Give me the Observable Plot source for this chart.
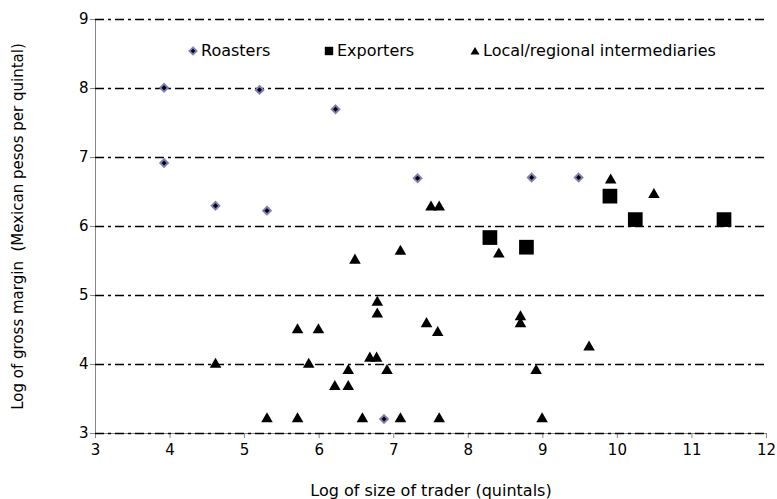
<!DOCTYPE html>
<html>
<head>
<meta charset="utf-8">
<script src="https://cdn.jsdelivr.net/npm/d3@7"></script>
<script src="https://cdn.jsdelivr.net/npm/@observablehq/plot@0.6"></script>
<style>
  html, body { margin: 0; padding: 0; background: #fff; }
  #wrap { position: relative; width: 777px; height: 499px; font-family: "DejaVu Sans", Verdana, sans-serif; }
  #wrap svg text { font-size: 15px; font-family: "DejaVu Sans", Verdana, sans-serif; fill: #000; }
  #wrap svg text.xlab { font-size: 16px; }
  #legend { position: absolute; top: 42px; left: 0; width: 777px; height: 18px; font-size: 16px; line-height: 18px; color: #000; }
  #legend .item { position: absolute; top: 0; display: flex; align-items: center; height: 18px; }
  #legend svg { margin-right: 2px; }
</style>
</head>
<body>
<div id="wrap"></div>
<script>
// ---- Data ----
const roastersX = [3.92, 5.20, 6.22, 3.92, 4.61, 5.30, 7.32, 8.85, 9.48, 6.87];
const roastersY = [8.01, 7.98, 7.70, 6.92, 6.30, 6.23, 6.70, 6.71, 6.71, 3.21];

const exportersX = [8.29, 8.78, 9.90, 10.24, 11.43];
const exportersY = [5.84, 5.70, 6.44, 6.10, 6.10];

const localX = [4.61, 5.30, 5.71, 5.71, 5.86, 5.99, 6.21, 6.39, 6.39, 6.48, 6.58, 6.68, 6.77, 6.78, 6.78, 6.91,
                7.09, 7.09, 7.44, 7.50, 7.59, 7.61, 7.61, 8.41, 8.70, 8.70, 8.91, 8.99, 9.62, 9.91, 10.49];
const localY = [4.00, 3.21, 3.21, 4.50, 4.00, 4.50, 3.68, 3.68, 3.91, 5.51, 3.21, 4.09, 4.09, 4.73, 4.90, 3.91,
                5.64, 3.21, 4.59, 6.28, 4.46, 6.28, 3.21, 5.60, 4.69, 4.59, 3.91, 3.21, 4.25, 6.67, 6.46];

const seriesNames = ["Roasters", "Exporters", "Local/regional intermediaries"];
const xTicks = [3, 4, 5, 6, 7, 8, 9, 10, 11, 12];
const yTicks = [3, 4, 5, 6, 7, 8, 9];
const xLabel = "Log of size of trader (quintals)";
const yLabel = "Log of gross margin  (Mexican pesos per quintal)";

const toRows = (xs, ys) => xs.map((x, i) => ({x, y: ys[i]}));
const roasters = toRows(roastersX, roastersY);
const exporters = toRows(exportersX, exportersY);
const locals = toRows(localX, localY);

const axisGrey = "#868686";

const chart = Plot.plot({
  width: 777,
  height: 499,
  marginLeft: 95,
  marginRight: 11,
  marginTop: 19,
  marginBottom: 66,
  style: { fontFamily: "'DejaVu Sans', Verdana, sans-serif", fontSize: "15px", color: "#000", background: "#fff", overflow: "visible" },
  x: { domain: [3, 12], ticks: xTicks, tickFormat: d3.format("d"), tickSize: 5, tickPadding: 6, label: xLabel, labelAnchor: "center", labelOffset: 62 },
  y: { domain: [3, 9], ticks: yTicks, tickFormat: d3.format("d"), tickSize: 5, tickPadding: 2, label: yLabel, labelAnchor: "center", labelOffset: 83 },
  marks: [
    Plot.ruleX([3], { stroke: axisGrey, strokeWidth: 1 }),
    Plot.ruleY([3], { stroke: axisGrey, strokeWidth: 1 }),
    Plot.ruleY(yTicks, { stroke: "#000", strokeWidth: 1.4, strokeDasharray: "9,4,3,4" }),
    Plot.dot(locals, { x: "x", y: "y", symbol: "triangle", r: 4.3, fill: "#000", stroke: "none" }),
    Plot.dot(exporters, { x: "x", y: "y", symbol: "square", r: 8.3, fill: "#000", stroke: "none" }),
    Plot.dot(roasters, { x: "x", y: "y", symbol: "diamond2", r: 3.5, fill: "#000", stroke: "#8080b8", strokeWidth: 1.9 })
  ]
});

// grey tick lines; strip auto arrows from axis labels
d3.select(chart).selectAll("[aria-label='x-axis'] line, [aria-label='y-axis'] line, [aria-label='x-axis tick'] path, [aria-label='y-axis tick'] path")
  .attr("stroke", axisGrey);
d3.select(chart).selectAll("text").each(function () {
  let t = this.textContent;
  if (/[→↑←↓]/.test(t)) { t = t.replace(/\s*[→↑←↓]\s*/g, ""); this.textContent = t; }
  if (t === xLabel) this.classList.add("xlab");
});

const wrap = document.getElementById("wrap");
wrap.appendChild(chart);

// ---- Legend (HTML overlay inside plot area) ----
const legend = document.createElement("div");
legend.id = "legend";
const legendLeft = [187, 323, 469];
const symbolsSvg = [
  `<svg width="12" height="12" viewBox="-6 -6 12 12"><path d="M0,-3.6L3.6,0L0,3.6L-3.6,0Z" fill="#000" stroke="#8080b8" stroke-width="1.8"/></svg>`,
  `<svg width="12" height="12" viewBox="-6 -6 12 12"><rect x="-4.2" y="-4.2" width="8.4" height="8.4" fill="#000"/></svg>`,
  `<svg width="12" height="12" viewBox="-6 -6 12 12"><path d="M0,-4L4.5,3.6L-4.5,3.6Z" fill="#000"/></svg>`
];
seriesNames.forEach((name, i) => {
  const item = document.createElement("div");
  item.className = "item";
  item.style.left = legendLeft[i] + "px";
  item.innerHTML = symbolsSvg[i] + `<span>${name}</span>`;
  legend.appendChild(item);
});
wrap.appendChild(legend);
</script>
</body>
</html>
